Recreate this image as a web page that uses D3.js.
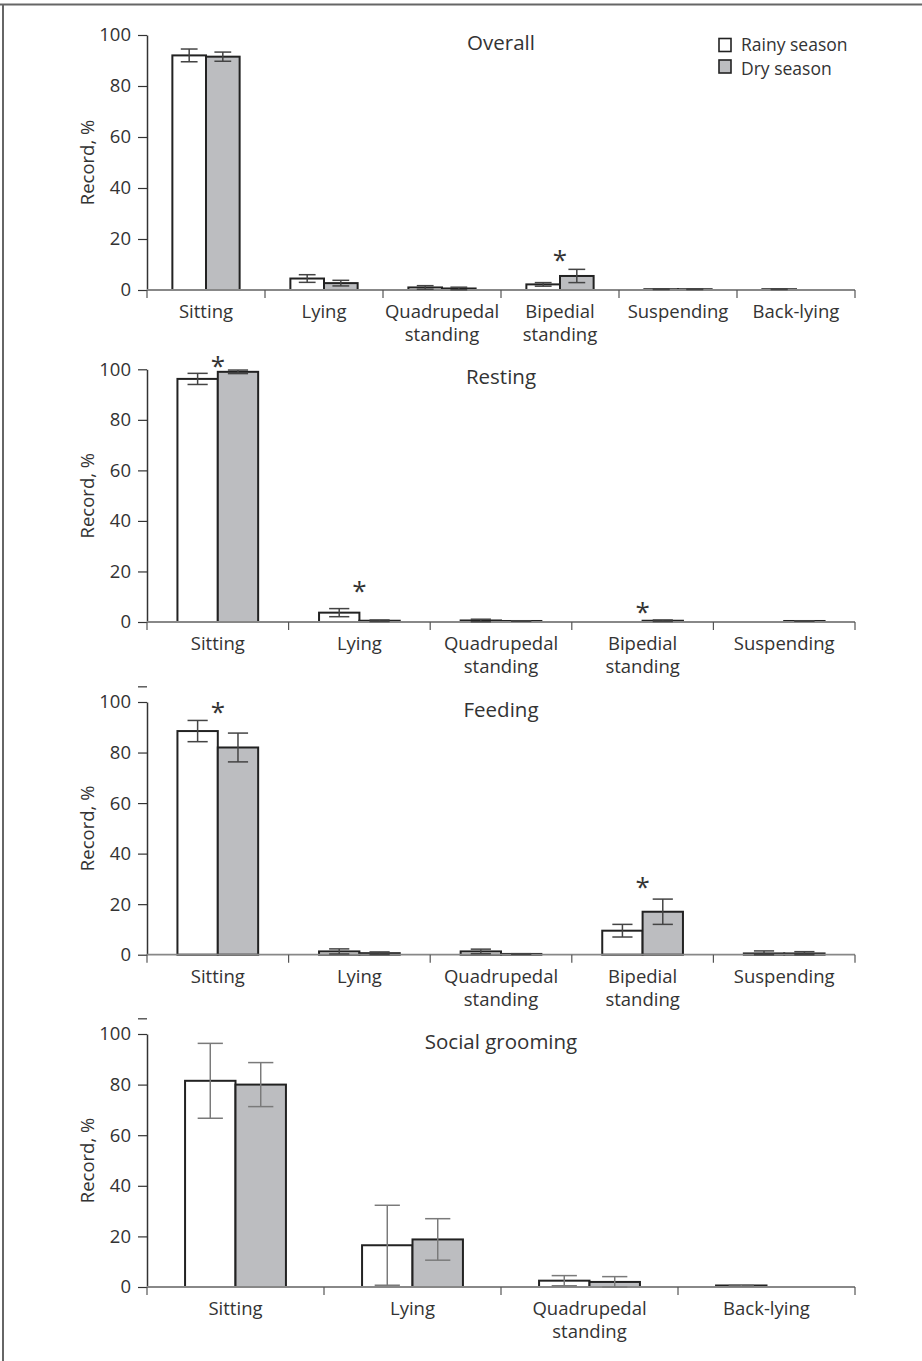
<!DOCTYPE html>
<html><head><meta charset="utf-8">
<script src="https://cdn.jsdelivr.net/npm/d3@7"></script>
<style>body{margin:0;background:#fff}svg{display:block}text{font-family:"Open Sans",sans-serif;fill:#333}</style>
</head><body><svg id="chart" width="922" height="1361"></svg>
<script>
// ---------- data ----------
const panelTitles = ["Overall", "Resting", "Feeding", "Social grooming"];
const seriesNames = ["Rainy season", "Dry season"];
const yTickValues = [0, 20, 40, 60, 80, 100];
const yAxisTitle = "Record, %";

const overallCats = ["Sitting", "Lying", "Quadrupedal standing", "Bipedial standing", "Suspending", "Back-lying"];
const overallRainy = [92, 4.5, 1.0, 2.2, 0.3, 0.3];
const overallRainyErr = [2.5, 1.5, 0.7, 0.7, 0.1, 0.1];
const overallDry = [91.5, 2.7, 0.6, 5.5, 0.3, null];
const overallDryErr = [1.8, 1.1, 0.5, 2.6, 0.1, null];
const overallStars = [null, null, null, 13, null, null];

const restingCats = ["Sitting", "Lying", "Quadrupedal standing", "Bipedial standing", "Suspending"];
const restingRainy = [96.2, 3.7, 0.6, null, null];
const restingRainyErr = [2.2, 1.6, 0.5, null, null];
const restingDry = [99.0, 0.5, 0.4, 0.5, 0.4];
const restingDryErr = [0.7, 0.3, 0.1, 0.3, 0.1];
const restingStars = [102.6, 13.5, null, 5, null];

const feedingCats = ["Sitting", "Lying", "Quadrupedal standing", "Bipedial standing", "Suspending"];
const feedingRainy = [88.5, 1.3, 1.3, 9.5, 0.5];
const feedingRainyErr = [4.2, 1.0, 0.9, 2.5, 1.0];
const feedingDry = [82.0, 0.6, 0.3, 17.0, 0.5];
const feedingDryErr = [5.7, 0.5, 0.1, 5.0, 0.7];
const feedingStars = [97.2, null, null, 28, null];

const groomingCats = ["Sitting", "Lying", "Quadrupedal standing", "Back-lying"];
const groomingRainy = [81.5, 16.5, 2.5, 0.6];
const groomingRainyErr = [14.8, 15.8, 2.0, 0.3];
const groomingDry = [80.0, 18.8, 2.0, null];
const groomingDryErr = [8.7, 8.2, 2.1, null];
const groomingStars = [null, null, null, null];

// stray unlabeled tick above the axis in the lower two panels
const strayTick = [null, null, 106, 106];

const panels = [
  {cats: overallCats, rainy: overallRainy, rainyErr: overallRainyErr, dry: overallDry, dryErr: overallDryErr, stars: overallStars},
  {cats: restingCats, rainy: restingRainy, rainyErr: restingRainyErr, dry: restingDry, dryErr: restingDryErr, stars: restingStars},
  {cats: feedingCats, rainy: feedingRainy, rainyErr: feedingRainyErr, dry: feedingDry, dryErr: feedingDryErr, stars: feedingStars},
  {cats: groomingCats, rainy: groomingRainy, rainyErr: groomingRainyErr, dry: groomingDry, dryErr: groomingDryErr, stars: groomingStars}
];

// ---------- layout ----------
const svg = d3.select("#chart");
const X0 = 147, X1 = 855;
const tops = [35, 369.3, 702, 1034];
const bottoms = [290, 622, 954.7, 1287];
const FS = 18.5;
const fills = ["#ffffff", "#bcbdc0"];
const errColors = ["#444", "#444", "#444", "#7a7a7a"];

// frame (top and left)
svg.append("line").attr("x1", 0).attr("x2", 922).attr("y1", 4.5).attr("y2", 4.5).attr("stroke", "#666").attr("stroke-width", 2);
svg.append("line").attr("x1", 3).attr("x2", 3).attr("y1", 4).attr("y2", 1361).attr("stroke", "#666").attr("stroke-width", 2);

panels.forEach((p, i) => {
  const y = d3.scaleLinear().domain([0, 100]).range([bottoms[i], tops[i]]);
  const x = d3.scaleBand().domain(p.cats).range([X0, X1]);
  const bw = x.bandwidth() * 0.285;
  const g = svg.append("g");

  // y axis
  const ya = g.append("g").attr("transform", `translate(${X0},0)`)
    .call(d3.axisLeft(y).tickValues(yTickValues).tickSize(9).tickPadding(7).tickSizeOuter(0));
  ya.select(".domain").attr("stroke", "#333").attr("stroke-width", 1.5);
  ya.selectAll(".tick line").attr("stroke", "#333").attr("stroke-width", 1.2);
  ya.selectAll(".tick text").attr("font-size", 18.5).attr("font-family", "Open Sans").attr("fill", "#333");
  if (strayTick[i] != null) {
    g.append("line").attr("x1", X0 - 9).attr("x2", X0).attr("y1", y(strayTick[i])).attr("y2", y(strayTick[i]))
      .attr("stroke", "#333").attr("stroke-width", 1.2);
  }

  // y title
  g.append("text").attr("transform", `translate(94,${(tops[i] + bottoms[i]) / 2}) rotate(-90)`)
    .attr("text-anchor", "middle").attr("font-size", FS).text(yAxisTitle);

  // panel title
  g.append("text").attr("x", (X0 + X1) / 2).attr("y", tops[i] + 8).attr("dy", "0.35em")
    .attr("text-anchor", "middle").attr("font-size", 20.5).text(panelTitles[i]);

  // bars
  const series = [
    {vals: p.rainy, errs: p.rainyErr, off: -bw, fill: fills[0]},
    {vals: p.dry, errs: p.dryErr, off: 0, fill: fills[1]}
  ];
  series.forEach(s => {
    p.cats.forEach((c, j) => {
      const v = s.vals[j];
      if (v == null) return;
      const cx = x(c) + x.bandwidth() / 2;
      g.append("rect").attr("x", cx + s.off).attr("width", bw)
        .attr("y", y(v)).attr("height", y(0) - y(v))
        .attr("fill", s.fill).attr("stroke", "#222").attr("stroke-width", 2);
    });
  });
  // x axis line
  g.append("line").attr("x1", X0).attr("x2", X1).attr("y1", y(0)).attr("y2", y(0))
    .attr("stroke", "#888").attr("stroke-width", 1.8);
  // error bars
  series.forEach(s => {
    p.cats.forEach((c, j) => {
      const v = s.vals[j], e = s.errs[j];
      if (v == null || e == null) return;
      const mx = x(c) + x.bandwidth() / 2 + s.off + bw / 2;
      const hi = y(v + e), lo = y(Math.max(0, v - e));
      const eg = g.append("g").attr("stroke", errColors[i]).attr("stroke-width", 1.5);
      eg.append("line").attr("x1", mx).attr("x2", mx).attr("y1", hi).attr("y2", lo);
      eg.append("line").attr("x1", mx - bw / 4).attr("x2", mx + bw / 4).attr("y1", hi).attr("y2", hi);
      eg.append("line").attr("x1", mx - bw / 4).attr("x2", mx + bw / 4).attr("y1", lo).attr("y2", lo);
    });
  });
  // category boundary ticks
  const bounds = p.cats.map(c => x(c)).concat([X1]);
  bounds.forEach(bx => {
    g.append("line").attr("x1", bx).attr("x2", bx).attr("y1", y(0)).attr("y2", y(0) + 8)
      .attr("stroke", "#555").attr("stroke-width", 1.2);
  });
  // category labels
  p.cats.forEach(c => {
    const t = g.append("text").attr("text-anchor", "middle").attr("font-size", FS)
      .attr("x", x(c) + x.bandwidth() / 2).attr("y", y(0) + 28);
    c.split(" ").forEach((w, k) => {
      t.append("tspan").attr("x", x(c) + x.bandwidth() / 2).attr("dy", k === 0 ? 0 : 23).text(w);
    });
  });
  // significance stars
  p.cats.forEach((c, j) => {
    if (p.stars[j] == null) return;
    g.append("text").attr("text-anchor", "middle").attr("font-size", 26)
      .attr("x", x(c) + x.bandwidth() / 2).attr("y", y(p.stars[j]) + 12).text("*");
  });
});

// legend
const lg = svg.append("g");
seriesNames.forEach((n, k) => {
  lg.append("rect").attr("x", 719).attr("y", 38.5 + k * 21.5).attr("width", 12).attr("height", 13)
    .attr("fill", fills[k]).attr("stroke", "#222").attr("stroke-width", 1.6);
  lg.append("text").attr("x", 741).attr("y", 51 + k * 23.5).attr("font-size", 17.5).text(n);
});
</script></body></html>
